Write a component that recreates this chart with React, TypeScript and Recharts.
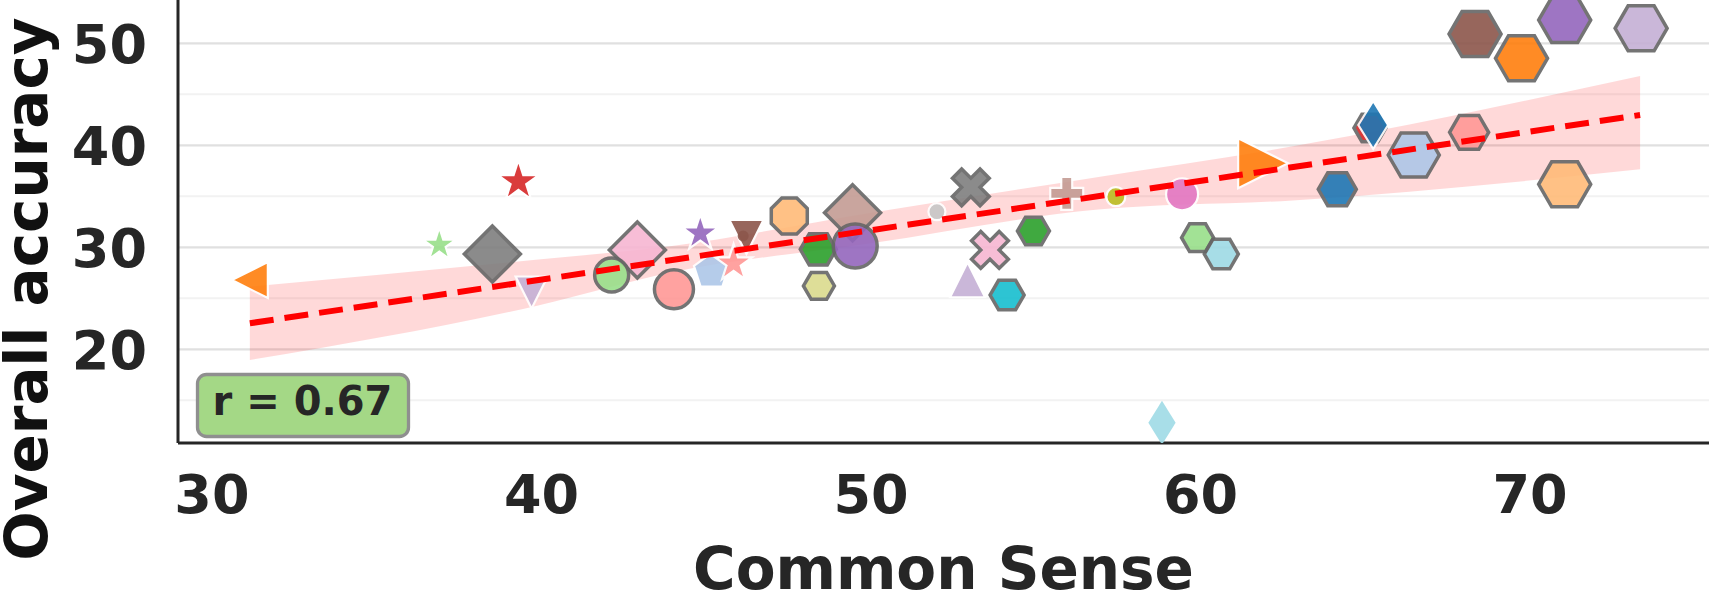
import React from "react";
import {
  ComposedChart,
  Scatter,
  Area,
  XAxis,
  YAxis,
  CartesianGrid,
} from "recharts";

const FONT = "'DejaVu Sans', sans-serif";
const INK = "#262626";
const GRAY_EDGE = "#666666";

// one entry per model
const commonSense = [
  31.15, 36.9, 39.3, 38.51, 39.7, 42.91, 42.13, 44.02, 44.82, 45.16, 46.22, 46.12,
  45.83, 47.52, 48.4, 48.42, 49.44, 49.52, 52.0, 53.03, 52.93, 53.61, 54.13, 54.93,
  55.94, 57.43, 59.44, 58.83, 59.91, 60.63, 61.9, 64.15, 66.47, 65.14, 65.24, 68.15,
  68.33, 69.74, 71.05, 73.37, 71.05,
];
const overallAccuracy = [
  26.79, 30.23, 36.43, 29.34, 25.57, 29.74, 27.28, 25.88, 31.37, 27.61, 31.01, 31.11,
  28.43, 33.07, 29.8, 26.21, 33.39, 30.13, 33.49, 35.88, 26.82, 29.74, 25.32, 31.6,
  35.29, 34.96, 35.2, 12.8, 30.94, 29.34, 38.24, 35.69, 39.05, 41.7, 41.99, 41.27,
  50.91, 48.53, 52.28, 51.47, 36.18,
];

// marker shape, fill colour, size in px and edge for each model above
const markerStyles = [
  { shape: "<", color: "#ff7f0e", size: 36, edge: "white" },
  { shape: "*", color: "#98df8a", size: 35, edge: "white" },
  { shape: "*", color: "#d62728", size: 43, edge: "white" },
  { shape: "D", color: "#7f7f7f", size: 56, edge: "gray" },
  { shape: "v", color: "#c5b0d5", size: 32, edge: "white" },
  { shape: "D", color: "#f7b6d2", size: 56, edge: "gray" },
  { shape: "o", color: "#98df8a", size: 34, edge: "gray" },
  { shape: "o", color: "#ff9896", size: 39, edge: "gray" },
  { shape: "*", color: "#9467bd", size: 38, edge: "white" },
  { shape: "p", color: "#aec7e8", size: 37, edge: "white" },
  { shape: "v", color: "#8c564b", size: 34, edge: "white" },
  { shape: "o", color: "#8c564b", size: 11, edge: "none" },
  { shape: "*", color: "#ff9896", size: 39, edge: "white" },
  { shape: "8", color: "#ffbb78", size: 36, edge: "gray" },
  { shape: "H", color: "#2ca02c", size: 36, edge: "gray" },
  { shape: "H", color: "#dbdb8d", size: 31, edge: "gray" },
  { shape: "D", color: "#c49c94", size: 56, edge: "gray" },
  { shape: "o", color: "#9467bd", size: 44, edge: "gray" },
  { shape: "o", color: "#c7c7c7", size: 17, edge: "white" },
  { shape: "X", color: "#7f7f7f", size: 39, edge: "gray" },
  { shape: "^", color: "#c5b0d5", size: 35, edge: "white" },
  { shape: "X", color: "#f7b6d2", size: 39, edge: "gray" },
  { shape: "H", color: "#17becf", size: 34, edge: "gray" },
  { shape: "H", color: "#2ca02c", size: 32, edge: "gray" },
  { shape: "P", color: "#c49c94", size: 33, edge: "white" },
  { shape: "o", color: "#bcbd22", size: 19, edge: "white" },
  { shape: "o", color: "#e377c2", size: 32, edge: "white" },
  { shape: "d", color: "#9edae5", size: 44, edge: "none" },
  { shape: "H", color: "#98df8a", size: 32, edge: "gray" },
  { shape: "H", color: "#9edae5", size: 34, edge: "gray" },
  { shape: ">", color: "#ff7f0e", size: 50, edge: "white" },
  { shape: "H", color: "#1f77b4", size: 38, edge: "gray" },
  { shape: "H", color: "#aec7e8", size: 51, edge: "gray" },
  { shape: "H", color: "#d62728", size: 32, edge: "gray" },
  { shape: "d", color: "#1f77b4", size: 48, edge: "white" },
  { shape: "H", color: "#ff9896", size: 39, edge: "gray" },
  { shape: "H", color: "#8c564b", size: 52, edge: "gray" },
  { shape: "H", color: "#ff7f0e", size: 52, edge: "gray" },
  { shape: "H", color: "#9467bd", size: 52, edge: "gray" },
  { shape: "H", color: "#c5b0d5", size: 52, edge: "gray" },
  { shape: "H", color: "#ffbb78", size: 52, edge: "gray" },
];

// linear fit and its bootstrap confidence band
const fitX = [31.15, 73.34];
const fitY = [22.55, 42.97];
const bandX = [31.15, 39.9, 43.9, 50.0, 56.9, 62.8, 73.34];
const bandLow = [18.95, 24.3, 27.5, 30.4, 33.7, 34.6, 37.65];
const bandHigh = [26.14, 28.8, 30.1, 33.4, 36.9, 39.9, 46.8];

const xTicks = [30, 40, 50, 60, 70];
const yTicks = [20, 30, 40, 50];
const yMinor = [15, 25, 35, 45];
const correlation = 0.67;

const points = commonSense.map((x, i) => ({ x, y: overallAccuracy[i], ...markerStyles[i] }));
const fitLine = fitX.map((x, i) => ({ x, y: fitY[i] }));
const ciBand = bandX.map((x, i) => ({ x, range: [bandLow[i], bandHigh[i]] }));

// unit outlines, half-extent 1, screen y pointing down
const ring = (n: number, start: number, r = 1) =>
  Array.from({ length: n }, (_, k) => {
    const a = ((start + (360 / n) * k) * Math.PI) / 180;
    return [r * Math.cos(a), r * Math.sin(a)];
  });
const star = Array.from({ length: 10 }, (_, k) => {
  const a = ((-90 + 36 * k) * Math.PI) / 180;
  const r = k % 2 ? 0.382 : 1;
  return [r * Math.cos(a), r * Math.sin(a)];
});
const plus = [
  [-1, -3], [1, -3], [1, -1], [3, -1], [3, 1], [1, 1],
  [1, 3], [-1, 3], [-1, 1], [-3, 1], [-3, -1], [-1, -1],
].map(([a, b]) => [a / 3, b / 3]);
const cross = plus.map(([a, b]) => [(a - b) / Math.SQRT2, (a + b) / Math.SQRT2]);

const SHAPES: Record<string, number[][]> = {
  H: ring(6, 0),
  "8": ring(8, 22.5, 1 / Math.cos(Math.PI / 8)),
  p: ring(5, -90),
  "*": star,
  D: [[0, -1], [1, 0], [0, 1], [-1, 0]],
  d: [[0, -1], [0.62, 0], [0, 1], [-0.62, 0]],
  "^": [[0, -1], [1, 1], [-1, 1]],
  v: [[0, 1], [1, -1], [-1, -1]],
  "<": [[-1, 0], [1, -1], [1, 1]],
  ">": [[1, 0], [-1, -1], [-1, 1]],
  P: plus,
  X: cross,
};

function Marker(props: any) {
  const { cx, cy } = props;
  const p = props.payload ?? props;
  if (cx == null || cy == null) return null;
  const r = p.size / 2;
  const stroke = p.edge === "gray" ? GRAY_EDGE : p.edge === "white" ? "#ffffff" : "none";
  const strokeWidth = p.edge === "gray" ? 3.5 : 2.2;
  if (p.shape === "o") {
    return (
      <g opacity={0.9}>
        <circle cx={cx} cy={cy} r={r} fill={p.color} stroke={stroke} strokeWidth={strokeWidth} />
      </g>
    );
  }
  const d =
    SHAPES[p.shape].map(([a, b], i) => `${i ? "L" : "M"}${cx + a * r},${cy + b * r}`).join(" ") + "Z";
  return (
    <g opacity={0.9}>
      <path d={d} fill={p.color} stroke={stroke} strokeWidth={strokeWidth} strokeLinejoin="miter" />
    </g>
  );
}

const NoDot = () => <g />;

const XTick = ({ x, y, payload }: any) => (
  <text x={x} y={y + 70} textAnchor="middle" fontSize={54} fontWeight="bold" fontFamily={FONT} fill={INK}>
    {payload.value}
  </text>
);

const YTick = ({ x, y, payload }: any) => (
  <text x={x - 31} y={y + 19.5} textAnchor="end" fontSize={54} fontWeight="bold" fontFamily={FONT} fill={INK}>
    {payload.value}
  </text>
);

const XLabel = ({ viewBox }: any) => (
  <text
    x={viewBox.x + viewBox.width / 2}
    y={589}
    textAnchor="middle"
    fontSize={58}
    fontWeight="bold"
    fontFamily={FONT}
    fill={INK}
  >
    Common Sense
  </text>
);

const YLabel = () => (
  <text
    x={47}
    y={289}
    transform="rotate(-90, 47, 289)"
    textAnchor="middle"
    fontSize={58}
    fontWeight="bold"
    fontFamily={FONT}
    fill="#111111"
  >
    Overall accuracy
  </text>
);

export default function App() {
  return (
    <div style={{ position: "absolute", left: 0, top: 0, width: 1709, height: 598, background: "#fff" }}>
      <ComposedChart width={1709} height={598} margin={{ top: 0, right: 0, bottom: 0, left: 0 }}>
        <CartesianGrid vertical={false} horizontalValues={yMinor} stroke="#f2f2f2" strokeWidth={2} />
        <CartesianGrid vertical={false} horizontalValues={yTicks} stroke="#e0e0e0" strokeWidth={2.2} />
        <XAxis
          type="number"
          dataKey="x"
          domain={[28.97, 75.43]}
          allowDataOverflow
          ticks={xTicks}
          height={155}
          tickSize={0}
          tickMargin={0}
          tickLine={false}
          tick={<XTick />}
          axisLine={{ stroke: INK, strokeWidth: 3 }}
          label={{ content: <XLabel /> }}
        />
        <YAxis
          type="number"
          domain={[10.81, 54.25]}
          allowDataOverflow
          ticks={yTicks}
          width={178}
          tickSize={0}
          tickMargin={0}
          tickLine={false}
          tick={<YTick />}
          axisLine={{ stroke: INK, strokeWidth: 3 }}
          label={{ content: <YLabel /> }}
        />
        <Area
          data={ciBand}
          dataKey="range"
          type="monotone"
          fill="#ff0000"
          fillOpacity={0.15}
          stroke="none"
          isAnimationActive={false}
        />
        <Scatter data={points} dataKey="y" shape={(p: any) => <Marker {...p} />} isAnimationActive={false} />
        {/* fit line drawn as a second scatter so it sits above the markers */}
        <Scatter
          data={fitLine}
          dataKey="y"
          line={{ stroke: "#ff0000", strokeWidth: 6, strokeDasharray: "24 11" }}
          lineType="joint"
          shape={<NoDot />}
          isAnimationActive={false}
        />
      </ComposedChart>
      <svg width={1709} height={598} style={{ position: "absolute", left: 0, top: 0, pointerEvents: "none" }}>
        <rect x={197.5} y={374.5} width={211} height={62} rx={9} fill="#a4d886" stroke="#8f8f8f" strokeWidth={3.3} />
        <text x={302.5} y={415} textAnchor="middle" fontSize={40} fontWeight="bold" fontFamily={FONT} fill={INK}>
          {`r = ${correlation.toFixed(2)}`}
        </text>
      </svg>
    </div>
  );
}
